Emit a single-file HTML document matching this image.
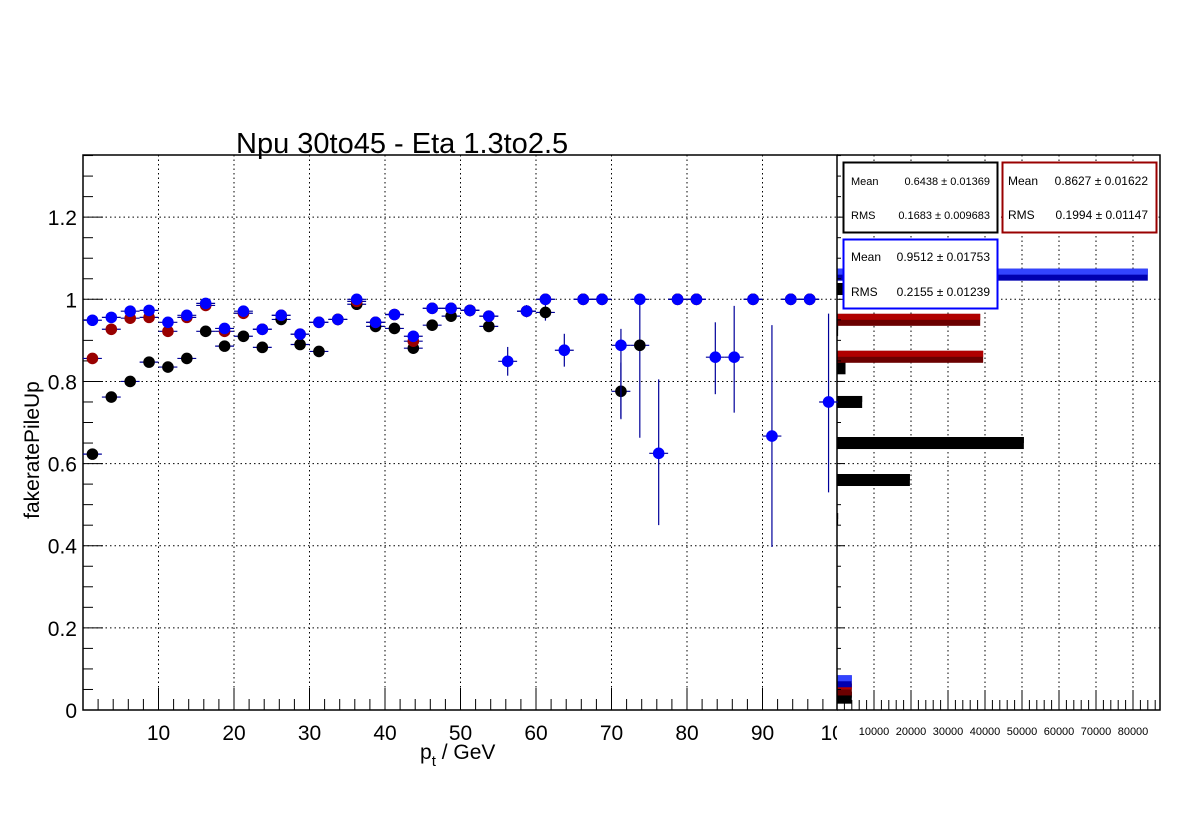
<!DOCTYPE html>
<html><head><meta charset="utf-8">
<style>
html,body{margin:0;padding:0;background:#fff;}
svg{display:block;font-family:"Liberation Sans",Arial,sans-serif;}
</style></head>
<body>
<svg id="chart" width="1196" height="822" viewBox="0 0 1196 822" xmlns="http://www.w3.org/2000/svg">
  <defs><clipPath id="leftclip"><rect x="0" y="0" width="837" height="822"/></clipPath></defs>
  <rect x="0" y="0" width="1196" height="822" fill="#fff"/>
  <text x="236" y="153" font-size="29" fill="#000">Npu 30to45 - Eta 1.3to2.5</text>
  <text transform="translate(39,450) rotate(-90)" font-size="21" text-anchor="middle">fakeratePileUp</text>
  <text x="420" y="759" font-size="21">p<tspan font-size="15" dy="7">t</tspan><tspan dy="-7"> / GeV</tspan></text>
  <g id="grid"></g>
  <g id="bars"></g>
  <g id="axes"></g>
  <g id="points"></g>
  <g>
    <rect x="843.5" y="162.5" width="154" height="70" fill="#fff" stroke="#000" stroke-width="2"/>
    <text x="851" y="185" font-size="11">Mean</text><text x="990" y="185" font-size="11" text-anchor="end">0.6438 ± 0.01369</text>
    <text x="851" y="219" font-size="11">RMS</text><text x="990" y="219" font-size="11" text-anchor="end">0.1683 ± 0.009683</text>
  </g>
  <g>
    <rect x="1002.5" y="162.5" width="154" height="70" fill="#fff" stroke="#990000" stroke-width="2"/>
    <text x="1008" y="185" font-size="12">Mean</text><text x="1148" y="185" font-size="12" text-anchor="end">0.8627 ± 0.01622</text>
    <text x="1008" y="219" font-size="12">RMS</text><text x="1148" y="219" font-size="12" text-anchor="end">0.1994 ± 0.01147</text>
  </g>
  <g>
    <rect x="843.5" y="239.5" width="154" height="69" fill="#fff" stroke="#0000ff" stroke-width="2"/>
    <text x="851" y="261" font-size="12">Mean</text><text x="990" y="261" font-size="12" text-anchor="end">0.9512 ± 0.01753</text>
    <text x="851" y="296" font-size="12">RMS</text><text x="990" y="296" font-size="12" text-anchor="end">0.2155 ± 0.01239</text>
  </g>
</svg>
<script>
const ptBins = [1.25,3.75,6.25,8.75,11.25,13.75,16.25,18.75,21.25,23.75,26.25,28.75,31.25,33.75,36.25,38.75,41.25,43.75,46.25,48.75,51.25,53.75,56.25,58.75,61.25,63.75,66.25,68.75,71.25,73.75,76.25,78.75,81.25,83.75,86.25,88.75,91.25,93.75,96.25,98.75];
const blackVals = [0.623,0.762,0.80,0.847,0.835,0.856,0.922,0.886,0.91,0.883,0.951,0.89,0.873,0.951,0.988,0.934,0.929,0.881,0.937,0.959,0.973,0.934,null,0.971,0.968,null,1,1,0.776,0.888,null,1,1,null,null,1,null,1,1,null];
const redVals = [0.856,0.927,0.954,0.956,0.922,0.956,0.985,0.922,0.966,0.927,0.961,0.915,0.944,0.951,0.995,0.944,0.963,0.898,0.978,0.978,0.973,0.959,null,0.971,1,null,1,1,null,null,null,1,1,null,null,1,null,1,1,null];
const blueVals = [0.949,0.956,0.971,0.973,0.944,0.961,0.990,0.929,0.971,0.927,0.961,0.915,0.944,0.951,1.0,0.944,0.963,0.91,0.978,0.978,0.973,0.959,0.849,0.971,1,0.876,1,1,0.888,1,0.625,1,1,0.859,0.859,1,0.667,1,1,0.75];
const blueErrLo = [0,0,0,0,0,0,0,0,0,0,0,0,0,0,0,0,0,0,0,0,0,0,0.035,0.015,0,0.04,0,0,0.18,0,0.175,0,0,0.09,0.135,0,0.27,0,0,0.22];
const blueErrHi = [0,0,0,0,0,0,0,0,0,0,0,0,0,0,0,0,0,0,0,0,0,0,0.035,0.015,0,0.04,0,0,0.04,0,0.18,0,0,0.085,0.125,0,0.27,0,0,0.215];
const blackErrLo = [0,0,0,0,0,0,0,0,0,0,0,0,0,0,0,0,0,0,0,0,0,0,0,0,0.02,0,0,0,0.065,0.225,0,0,0,0,0,0,0,0,0,0];
const blackErrHi = [0,0,0,0,0,0,0,0,0,0,0,0,0,0,0,0,0,0,0,0,0,0,0,0,0.02,0,0,0,0.07,0.115,0,0,0,0,0,0,0,0,0,0];
const xTickLabels = ["10","20","30","40","50","60","70","80","90","100"];
const yTickLabels = ["0","0.2","0.4","0.6","0.8","1","1.2"];
const projTickLabels = ["10000","20000","30000","40000","50000","60000","70000","80000"];
const projBlueBins = [1.06, 0.07];
const projBlueCounts = [84000, 4000];
const projRedBins = [0.95, 0.86, 0.05];
const projRedCounts = [38700, 39500, 4000];
const projBlackBins = [1.025, 0.925, 0.832, 0.75, 0.65, 0.56, 0.465, 0.03];
const projBlackCounts = [1500, 300, 2300, 6800, 50500, 19700, 300, 4000];

const NS = "http://www.w3.org/2000/svg";
const X0 = 83, X1 = 838, XR = 837, Y0 = 710, YT = 155, PX0 = 837, PXR = 1160;
const xs = v => X0 + v * (X1 - X0) / 100;
const ys = v => Y0 - v * 410.7;
const ps = v => PX0 + v * 37 / 10000;
function mk(tag, attrs, parent) {
  const e = document.createElementNS(NS, tag);
  for (const k in attrs) e.setAttribute(k, attrs[k]);
  parent.appendChild(e);
  return e;
}
const grid = document.getElementById('grid');
const axes = document.getElementById('axes');
const bars = document.getElementById('bars');
const pts = document.getElementById('points');
const dot = {stroke: '#000', 'stroke-width': 1, 'stroke-dasharray': '1.5,3'};

for (let i = 1; i <= 9; i++) {
  const l = mk('line', Object.assign({x1: xs(i*10), x2: xs(i*10), y1: YT, y2: Y0}, dot), grid);
  
  
}
for (let i = 1; i <= 8; i++) {
  const l = mk('line', Object.assign({x1: ps(i*10000), x2: ps(i*10000), y1: YT, y2: Y0}, dot), grid);
  
  
}
for (let i = 1; i <= 6; i++) {
  const l = mk('line', Object.assign({x1: X0, x2: PXR, y1: ys(i*0.2), y2: ys(i*0.2)}, dot), grid);
  
  
}

function drawBars(binsArr, counts, dark, light, name) {
  binsArr.forEach((b, i) => {
    const yc = ys(b);
    const w = ps(counts[i]) - PX0;
    const g = mk('g', {}, bars);
    
    
    mk('rect', {x: PX0, y: yc - 6, width: w, height: 12, fill: dark}, g);
    mk('rect', {x: PX0, y: yc - 6, width: w, height: 6, fill: light}, g);
  });
}
drawBars(projBlackBins, projBlackCounts, '#000', '#000', 'proj-bar-black');
drawBars(projRedBins, projRedCounts, '#6b0000', '#b00000', 'proj-bar-red');
drawBars(projBlueBins, projBlueCounts, '#0000b0', '#3344ff', 'proj-bar-blue');

const f1 = mk('path', {d: `M${X0},${YT}H${XR}V${Y0}H${X0}Z`, fill: 'none', stroke: '#000', 'stroke-width': 1.5}, axes);


const f2 = mk('path', {d: `M${PX0},${YT}H${PXR}V${Y0}H${PX0}`, fill: 'none', stroke: '#000', 'stroke-width': 1.5}, axes);


for (let v = 2; v < 100; v += 2) {
  const L = v % 10 === 0 ? 22 : 11;
  mk('line', {x1: xs(v), x2: xs(v), y1: Y0, y2: Y0 - L, stroke: '#000', 'stroke-width': 1}, axes);
}
xTickLabels.forEach((t, i) => {
  const tx = mk('text', {x: xs((i+1)*10), y: Y0 + 30, 'font-size': 21, 'text-anchor': 'middle', 'clip-path': 'url(#leftclip)'}, axes);
  tx.textContent = t;
  
  
});
for (let k = 1; k <= 27; k++) {
  const v = k * 0.05;
  const L = k % 4 === 0 ? 20 : 10;
  mk('line', {x1: X0, x2: X0 + L, y1: ys(v), y2: ys(v), stroke: '#000', 'stroke-width': 1}, axes);
  mk('line', {x1: PX0, x2: PX0 + (k % 4 === 0 ? 8 : 4), y1: ys(v), y2: ys(v), stroke: '#000', 'stroke-width': 1}, axes);
}
yTickLabels.forEach((t, i) => {
  const tx = mk('text', {x: X0 - 6, y: ys(i*0.2) + 8, 'font-size': 21, 'text-anchor': 'end'}, axes);
  tx.textContent = t;
  
  
});
for (let v = 2000; v <= 86000; v += 2000) {
  const L = v % 10000 === 0 ? 20 : 10;
  mk('line', {x1: ps(v), x2: ps(v), y1: Y0, y2: Y0 - L, stroke: '#000', 'stroke-width': 1}, axes);
}
projTickLabels.forEach((t, i) => {
  const tx = mk('text', {x: ps((i+1)*10000), y: Y0 + 25, 'font-size': 11, 'text-anchor': 'middle'}, axes);
  tx.textContent = t;
  
  
});

function drawSeries(vals, lo, hi, color, name) {
  vals.forEach((v, i) => {
    if (v === null) return;
    const g = mk('g', {}, pts);
    
    
    const cx = xs(ptBins[i]), cy = ys(v);
    mk('line', {x1: xs(ptBins[i] - 1.25), x2: xs(ptBins[i] + 1.25), y1: cy, y2: cy, stroke: '#00009a', 'stroke-width': 1.2}, g);
    if (lo && (lo[i] || hi[i])) {
      mk('line', {x1: cx, x2: cx, y1: ys(v - lo[i]), y2: ys(v + hi[i]), stroke: '#00009a', 'stroke-width': 1.2}, g);
    }
    mk('circle', {cx: cx, cy: cy, r: 5.8, fill: color}, g);
  });
}
drawSeries(blackVals, blackErrLo, blackErrHi, '#000', 'point-black');
drawSeries(redVals, null, null, '#990000', 'point-red');
drawSeries(blueVals, blueErrLo, blueErrHi, '#0000ff', 'point-blue');
</script>
</body></html>
